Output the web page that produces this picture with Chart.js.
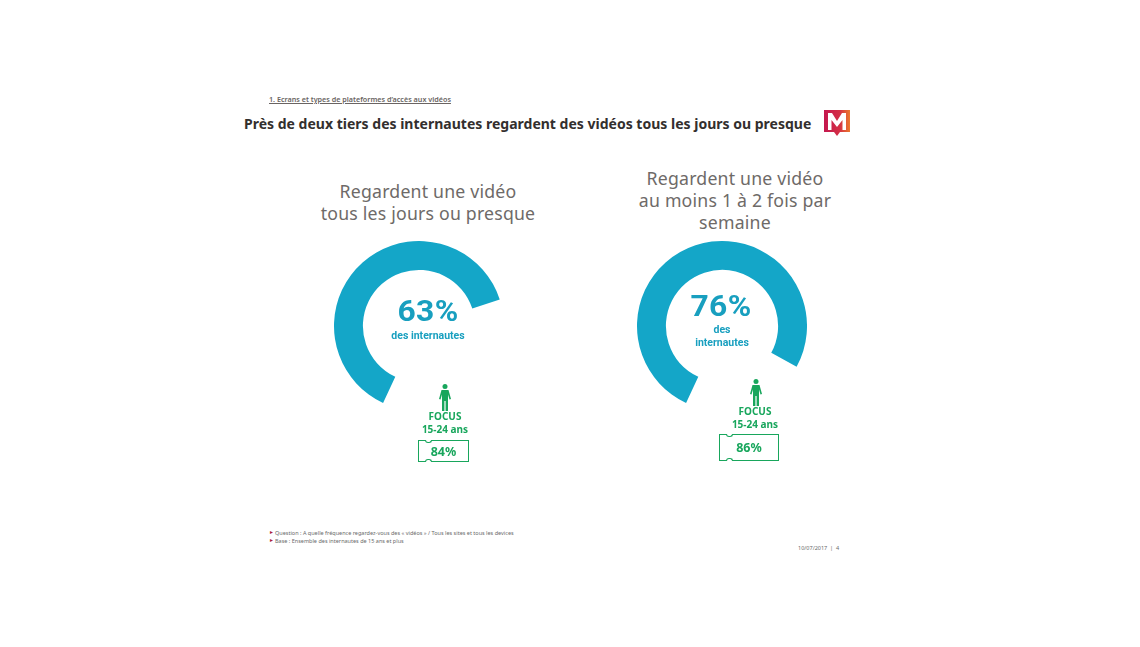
<!DOCTYPE html>
<html lang="fr"><head><meta charset="utf-8">
<script src="https://cdn.jsdelivr.net/npm/chart.js@4"></script>
<style>
html,body{margin:0;padding:0;background:#fff;width:1140px;height:647px;overflow:hidden}
body{position:relative;font-family:"Noto Sans",sans-serif}
.t{position:absolute;white-space:nowrap;text-align:center;transform:translateX(-50%)}
.l{position:absolute;white-space:nowrap}
canvas{position:absolute}
.sub{color:#6e6a68;font-size:17.7px;line-height:22px;letter-spacing:.2px}
.big{color:#189fbf;font-family:Roboto,sans-serif;font-size:30px;font-weight:700;line-height:26px;letter-spacing:.3px;transform:translateX(-50%) scaleX(1.06)}
.des{color:#189fbf;font-family:Roboto,sans-serif;font-size:10.5px;font-weight:700;line-height:13px}
.foc{color:#18a65c;font-size:10px;font-weight:700;line-height:13px}
.box{position:absolute;border:1px solid #18a65c;box-sizing:border-box;color:#18a65c;font-size:12.5px;font-weight:700;display:flex;align-items:center;justify-content:center}
.box i{position:absolute;width:5px;height:2px;background:#fff;border:1px solid #18a65c;border-radius:0 0 3px 3px}
.box i.a{left:6px;top:-1px;border-top:none}
.box i.b{left:6px;bottom:-1px;border-bottom:none;border-radius:3px 3px 0 0}
.note{color:#6a6a6a;font-size:5.5px}
</style></head><body>
<div class="l" style="left:269px;top:94px;font-size:7.2px;font-weight:600;color:#6a6462;text-decoration:underline" id="section"></div>
<div class="l" style="left:244px;top:114px;font-size:14.03px;font-weight:700;color:#332f2e" id="title"></div>
<svg style="position:absolute;left:824px;top:109px" width="27" height="28" viewBox="0 0 27 28">
<defs><linearGradient id="g" x1="0" y1="0" x2="1" y2="0"><stop offset="0" stop-color="#c4174f"/><stop offset=".6" stop-color="#d42f45"/><stop offset="1" stop-color="#ec7a2d"/></linearGradient></defs>
<path d="M0 1H26V23H16L13 27L10 23H0Z" fill="url(#g)"/>
<path d="M4 21V4H8L13 12L18 4H22V21H18.5V11L13 18L7.5 11V21Z" fill="#fff"/></svg>

<div class="t sub" style="left:428px;top:180px" id="h1"></div>
<div class="t sub" style="left:735px;top:167px" id="h2"></div>

<canvas id="c1" style="left:334px;top:241px;width:170px;height:170px"></canvas>
<canvas id="c2" style="left:637px;top:241px;width:170px;height:170px"></canvas>

<div class="t big" style="left:428px;top:298px" id="p1"></div>
<div class="t des" style="left:428px;top:329px" id="d1"></div>
<div class="t big" style="left:721px;top:292.5px" id="p2"></div>
<div class="t des" style="left:722px;top:323px" id="d2"></div>

<svg style="position:absolute;left:438px;top:384px" width="14" height="28" viewBox="0 0 14 28"><g fill="#18a65c"><circle cx="7" cy="2.6" r="2.5"/><path d="M3.5 6H10.5L13 15L11.5 15.5L10 10.5V27H7.6V17H6.4V27H4V10.5L2.5 15.5L1 15Z"/></g></svg>
<svg style="position:absolute;left:749px;top:379px" width="14" height="28" viewBox="0 0 14 28"><g fill="#18a65c"><circle cx="7" cy="2.6" r="2.5"/><path d="M3.5 6H10.5L13 15L11.5 15.5L10 10.5V27H7.6V17H6.4V27H4V10.5L2.5 15.5L1 15Z"/></g></svg>

<div class="t foc" style="left:445px;top:410px" id="f1"></div>
<div class="t foc" style="left:755px;top:405px" id="f2"></div>
<div class="box" style="left:418px;top:440px;width:51px;height:22px"><i class="a"></i><i class="b"></i><span id="b1"></span></div>
<div class="box" style="left:719px;top:434px;width:60px;height:27px"><i class="a"></i><i class="b"></i><span id="b2"></span></div>

<div class="l note" style="left:275px;top:529px" id="n1"></div>
<div class="l note" style="left:275px;top:537px" id="n2"></div>
<div class="l" style="left:269px;top:529px;color:#a8233c;font-size:5px">&#9658;</div>
<div class="l" style="left:269px;top:537px;color:#a8233c;font-size:5px">&#9658;</div>
<div class="l note" style="left:798px;top:544px" id="n3"></div>

<script>
const categories = ["Regardent", "Autres"];
const dailyValues = [63, 37];
const weeklyValues = [76, 24];
const dailyFocus = "84%";
const weeklyFocus = "86%";
const sectionText = "1. Ecrans et types de plateformes d’accès aux vidéos";
const titleText = "Près de deux tiers des internautes regardent des vidéos tous les jours ou presque";
const dailyHeading = "Regardent une vidéo<br>tous les jours ou presque";
const weeklyHeading = "Regardent une vidéo<br>au moins 1 à 2 fois par<br>semaine";
const focusText = "FOCUS<br>15-24 ans";
const noteQuestion = "Question : A quelle fréquence regardez-vous des « vidéos » / Tous les sites et tous les devices";
const noteBase = "Base : Ensemble des internautes de 15 ans et plus";
const footerText = "10/07/2017 &nbsp;|&nbsp; 4";

const set = (id, html) => document.getElementById(id).innerHTML = html;
set("section", sectionText); set("title", titleText);
set("h1", dailyHeading); set("h2", weeklyHeading);
set("p1", dailyValues[0] + "%"); set("p2", weeklyValues[0] + "%");
set("d1", "des internautes"); set("d2", "des<br>internautes");
set("f1", focusText); set("f2", focusText);
set("b1", dailyFocus); set("b2", weeklyFocus);
set("n1", noteQuestion); set("n2", noteBase); set("n3", footerText);

function ring(id, values) {
  new Chart(document.getElementById(id), {
    type: "doughnut",
    data: { labels: categories, datasets: [{ data: values, backgroundColor: ["#14a6c8", "rgba(255,255,255,0)"], borderWidth: 0 }] },
    options: {
      responsive: false, animation: false, cutout: "66%", rotation: 205,
      layout: { padding: 0 },
      plugins: { legend: { display: false }, tooltip: { enabled: false } }
    }
  });
}
ring("c1", dailyValues);
ring("c2", weeklyValues);
</script>
</body></html>
